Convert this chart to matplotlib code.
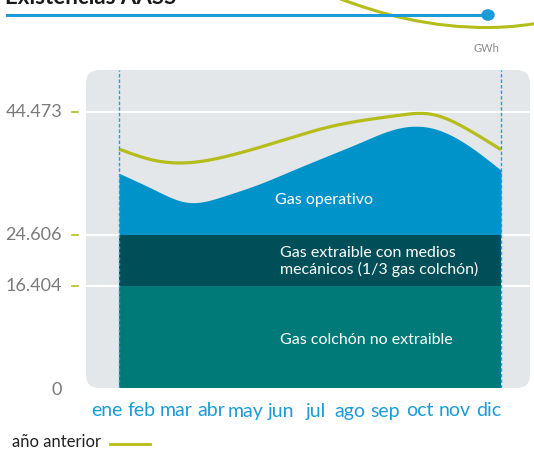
import matplotlib
matplotlib.use("Agg")
import matplotlib.pyplot as plt
from matplotlib.patches import FancyBboxPatch, PathPatch, Circle
from matplotlib.path import Path
from matplotlib.lines import Line2D
import numpy as np

plt.rcParams['font.family'] = ['Lato', 'DejaVu Sans']

# ---- data ----
months = ["ene", "feb", "mar", "abr", "may", "jun", "jul", "ago", "sep", "oct", "nov", "dic"]
gas_total = [34.6, 32.0, 29.9, 30.9, 32.8, 35.1, 37.4, 39.7, 41.8, 41.9, 39.3, 35.1]
anio_anterior = [38.5, 36.7, 36.3, 37.2, 38.7, 40.4, 42.0, 43.1, 43.9, 44.1, 41.8, 38.4]
colchon_no_extraible = 16.404
colchon_extraible_top = 24.606
max_cap = 44.473
ytick_vals = [0, 16.404, 24.606, 44.473]
ytick_labels = ["0", "16.404", "24.606", "44.473"]

# ---- colors ----
C_PANEL = "#E4E7EA"
C_OPER = "#0093C9"
C_DARK = "#004E57"
C_TEAL = "#007A78"
C_YG = "#B5BD1A"
C_BLUE = "#1B9BD7"
C_GRAY = "#7A7A7A"

W, H = 534, 453
fig = plt.figure(figsize=(W / 100, H / 100), dpi=100)
fig.patch.set_facecolor("white")

pl, pr, pt, pb = 86, 530, 70, 388
ax = fig.add_axes([pl / W, 1 - pb / H, (pr - pl) / W, (pb - pt) / H])
ax.set_facecolor("none")
for s in ax.spines.values():
    s.set_visible(False)

step = (501 - 119) / 11
x0 = (pl - 119) / step
x1 = (pr - 119) / step
ax.set_xlim(x0, x1)
ax.set_ylim(0, (pb - pt) / 6.206)
ax.set_xticks([])
ax.set_yticks([])

# rounded panel
panel = FancyBboxPatch((0, 0), 1, 1, boxstyle="round,pad=0,rounding_size=0.03",
                       transform=ax.transAxes, facecolor=C_PANEL, edgecolor="none",
                       zorder=0, mutation_aspect=(pr - pl) / (pb - pt))
ax.add_patch(panel)

# white gridlines
for v in ytick_vals[1:]:
    ax.axhline(v, color="white", lw=1.6, zorder=1)

# smooth curves (natural cubic spline)
x = np.arange(len(months), dtype=float)
xs = np.linspace(0, len(months) - 1, 500)

def spline(xp, yp, xq):
    n = len(xp)
    h = np.diff(xp)
    A = np.zeros((n, n))
    b = np.zeros(n)
    A[0, 0] = 1
    A[-1, -1] = 1
    for i in range(1, n - 1):
        A[i, i - 1] = h[i - 1]
        A[i, i] = 2 * (h[i - 1] + h[i])
        A[i, i + 1] = h[i]
        b[i] = 3 * ((yp[i + 1] - yp[i]) / h[i] - (yp[i] - yp[i - 1]) / h[i - 1])
    c = np.linalg.solve(A, b)
    yp = np.asarray(yp, dtype=float)
    out = np.empty_like(xq)
    for k, t in enumerate(xq):
        i = min(int(np.searchsorted(xp, t, side="right") - 1), n - 2)
        i = max(i, 0)
        d = t - xp[i]
        bi = (yp[i + 1] - yp[i]) / h[i] - h[i] * (2 * c[i] + c[i + 1]) / 3
        di = (c[i + 1] - c[i]) / (3 * h[i])
        out[k] = yp[i] + bi * d + c[i] * d ** 2 + di * d ** 3
    return out

tot_s = spline(x, gas_total, xs)
ant_s = spline(x, anio_anterior, xs)

ax.fill_between(xs, colchon_extraible_top, tot_s, color=C_OPER, lw=0, zorder=2)
ax.fill_between(xs, colchon_no_extraible, colchon_extraible_top, color=C_DARK, lw=0, zorder=2)
ax.fill_between(xs, 0, colchon_no_extraible, color=C_TEAL, lw=0, zorder=2)
ax.plot(xs, ant_s, color=C_YG, lw=2.3, zorder=3, solid_capstyle="butt")

# dashed verticals
for xv in [x[0], x[-1]]:
    ax.axvline(xv, color="#1FA0DC", lw=1.0, ls=(0, (2.5, 1.5)), zorder=4)

# in-chart labels
ax.text(4.5, 30.3, "Gas operativo", color="white", fontsize=11.5, va="center", ha="left", zorder=5)
ax.text(4.63, 20.4, "Gas extraible con medios\nmecánicos (1/3 gas colchón)", color="white",
        fontsize=11.5, va="center", ha="left", linespacing=1.1, zorder=5)
ax.text(4.63, 7.8, "Gas colchón no extraible", color="white", fontsize=11.5,
        va="center", ha="left", zorder=5)

# y tick labels and dashes
tr = ax.get_yaxis_transform()
for v, lab in zip(ytick_vals, ytick_labels):
    ax.text((62 - pl) / (pr - pl), v if v > 0 else -0.3, lab, transform=tr, ha="right",
            va="center", fontsize=13, color=C_GRAY, clip_on=False)
    if v > 0:
        ax.add_line(Line2D([(72 - pl) / (pr - pl), (78 - pl) / (pr - pl)], [v, v],
                           transform=tr, color=C_YG, lw=1.2, clip_on=False))

# month labels
xtr = ax.get_xaxis_transform()
for i, m in enumerate(months):
    ax.text(i - 0.345, -(411 - pb) / (pb - pt), m, transform=xtr, ha="center", va="center",
            fontsize=14, color=C_BLUE, clip_on=False)

# header: cut-off title, blue line with dot, decorative curve
fig.text(5 / W, 1 - 4.5 / H, "Existencias AASS", fontsize=16, fontweight="bold",
         color="#1a1a1a", ha="left", va="baseline")
fig.add_artist(Line2D([7 / W, 488 / W], [1 - 15 / H, 1 - 15 / H], color=C_BLUE, lw=2.2,
                      transform=fig.transFigure))

def fpt(px, py):
    return (px / W, 1 - py / H)

verts = [fpt(338, -2), fpt(380, 14), fpt(430, 28), fpt(490, 27.5),
         fpt(515, 27), fpt(525, 25), fpt(536, 23.5)]
codes = [Path.MOVETO, Path.CURVE4, Path.CURVE4, Path.CURVE4, Path.CURVE4, Path.CURVE4, Path.CURVE4]
fig.add_artist(PathPatch(Path(verts, codes), facecolor="none", edgecolor=C_YG, lw=2.2,
                         transform=fig.transFigure, zorder=1))
fig.add_artist(Circle(fpt(488, 15), 6 / W, transform=fig.transFigure, color=C_BLUE, zorder=3))

fig.text(499 / W, 1 - 48 / H, "GWh", fontsize=8, color="#8a8a8a", ha="right", va="center")

# legend
fig.text(12 / W, 1 - 442 / H, "año anterior", fontsize=12, color="#222222", ha="left", va="center")
fig.add_artist(Line2D([110 / W, 150 / W], [1 - 444 / H, 1 - 444 / H], color=C_YG, lw=2,
                      transform=fig.transFigure))

fig.savefig("out.png", dpi=100)
